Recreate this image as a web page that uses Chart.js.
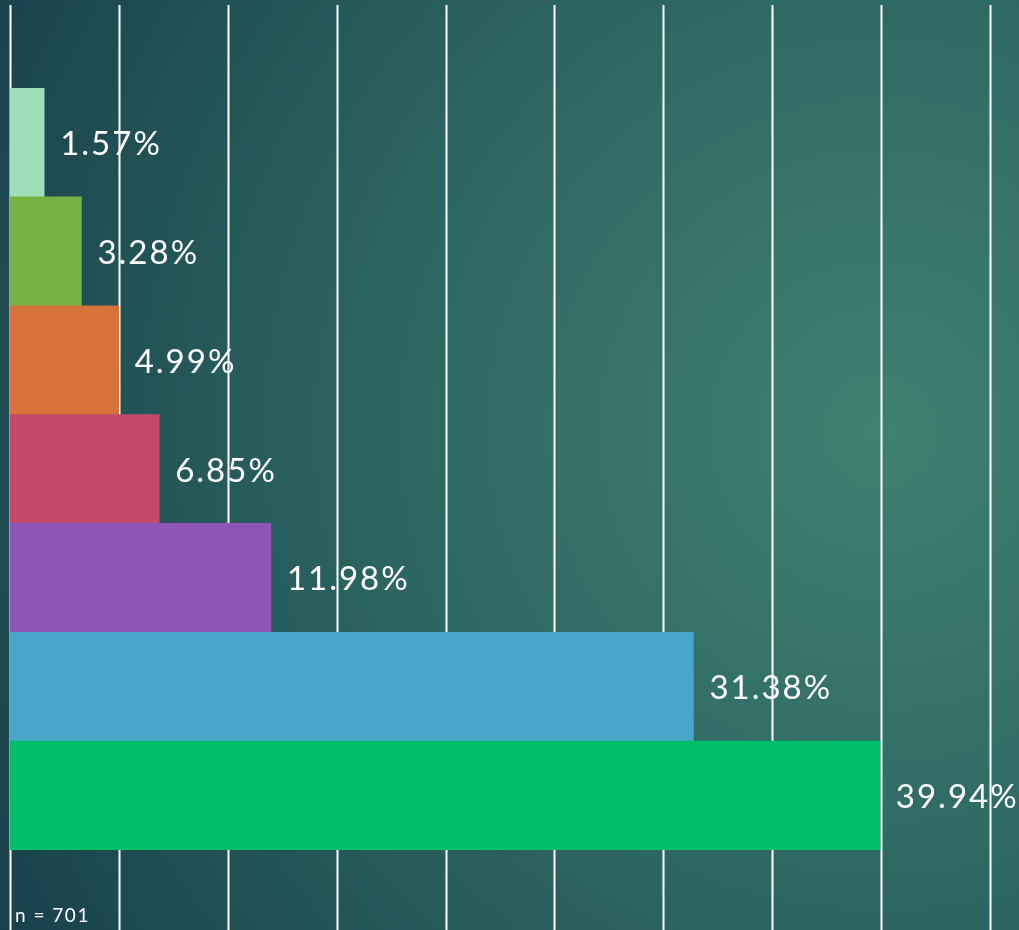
<!DOCTYPE html>
<html>
<head>
<meta charset="utf-8">
<style>
  html, body { margin: 0; padding: 0; background: #1c4850; }
  #wrap { width: 1019px; height: 930px; position: relative; }
</style>
<script src="https://cdn.jsdelivr.net/npm/chart.js@4/dist/chart.umd.min.js"></script>
</head>
<body>
<div id="wrap"><canvas id="chart" width="1019" height="930"></canvas></div>
<script>
// Data
const categories = ['1', '2', '3', '4', '5', '6', '7'];
const shares = [1.57, 3.28, 4.99, 6.85, 11.98, 31.38, 39.94];
const barColors = ['#9ddfb7', '#77b043', '#d5733a', '#c24b6b', '#8e55b6', '#48a6c9', '#00bf6b'];
const sampleNote = 'n = 701';
const gridStep = 5;

const FONT = 'Lato, "Open Sans", sans-serif';

const backdrop = {
    id: 'backdrop',
    beforeDraw(chart) {
        const ctx = chart.ctx;
        const w = chart.width, h = chart.height;
        const g = ctx.createRadialGradient(880, 430, 0, 880, 430, 1050);
        g.addColorStop(0, '#3f8171');
        g.addColorStop(0.45, '#2d6763');
        g.addColorStop(1, '#173e49');
        ctx.save();
        ctx.fillStyle = g;
        ctx.fillRect(0, 0, w, h);
        ctx.restore();
    },
    beforeDatasetsDraw(chart) {
        const ctx = chart.ctx;
        const xs = chart.scales.x;
        const meta = chart.getDatasetMeta(0);
        ctx.save();
        // value labels (sit under the grid lines)
        ctx.fillStyle = '#ffffff';
        ctx.font = '33px ' + FONT;
        ctx.letterSpacing = '2px';
        ctx.textAlign = 'left';
        ctx.textBaseline = 'middle';
        meta.data.forEach((bar, i) => {
            ctx.fillText(shares[i].toFixed(2) + '%', bar.x + 16, bar.y + 2);
        });
        // vertical grid lines over the whole height
        ctx.strokeStyle = '#ffffff';
        ctx.lineWidth = 2;
        for (let v = 0; v <= xs.max; v += gridStep) {
            const px = Math.round(xs.getPixelForValue(v)) + 0.5;
            ctx.beginPath();
            ctx.moveTo(px, 5);
            ctx.lineTo(px, chart.height);
            ctx.stroke();
        }
        // sample size note
        ctx.font = '19px ' + FONT;
        ctx.letterSpacing = '1.5px';
        ctx.textBaseline = 'alphabetic';
        ctx.fillText(sampleNote, 15, 922);
        ctx.restore();
    }
};

new Chart(document.getElementById('chart'), {
    type: 'bar',
    data: {
        labels: categories,
        datasets: [{
            data: shares,
            backgroundColor: barColors,
            borderWidth: 0,
            barPercentage: 1,
            categoryPercentage: 1
        }]
    },
    options: {
        indexAxis: 'y',
        responsive: false,
        animation: false,
        layout: { padding: { left: 10, right: 0, top: 88, bottom: 80 } },
        plugins: { legend: { display: false }, tooltip: { enabled: false } },
        scales: {
            x: { display: false, min: 0, max: 46.33 },
            y: { display: false }
        }
    },
    plugins: [backdrop]
});
</script>
</body>
</html>
